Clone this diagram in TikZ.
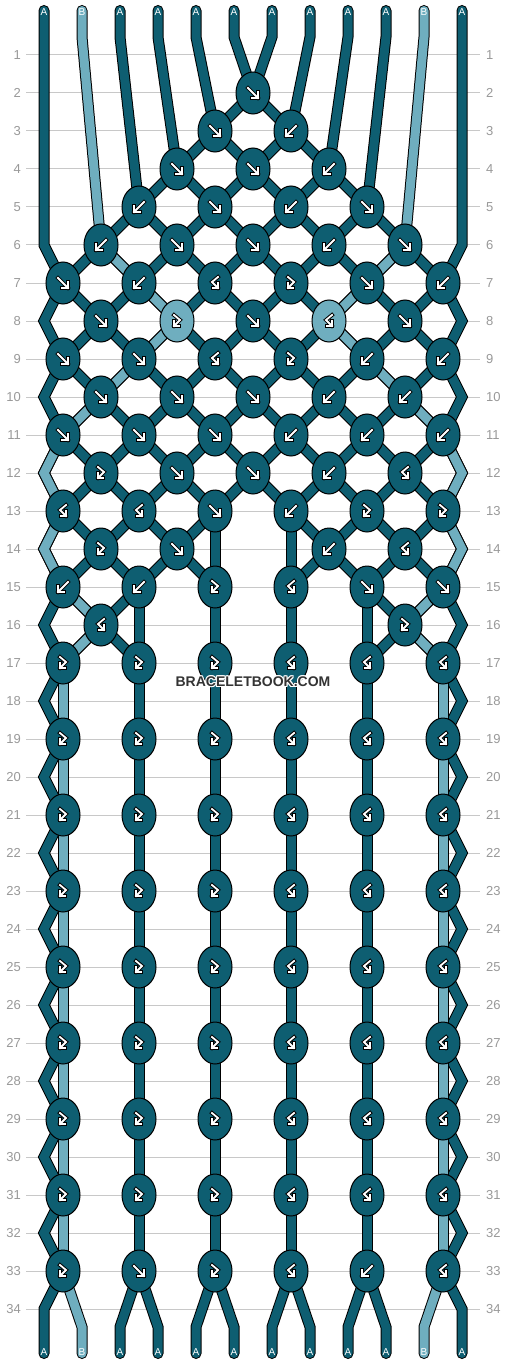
\documentclass[tikz,border=0pt]{standalone}
\usepackage{fontspec}
\setmainfont{Liberation Sans}
\usetikzlibrary{shapes.geometric}
\definecolor{dk}{RGB}{14,94,113}
\definecolor{lt}{RGB}{111,174,191}
\definecolor{gridc}{RGB}{200,200,200}
\definecolor{numc}{RGB}{153,153,153}
\definecolor{wmc}{RGB}{51,51,51}
\pgfdeclarelayer{gridlayer}
\pgfdeclarelayer{strandlayer}
\pgfdeclarelayer{frontlayer}
\pgfsetlayers{gridlayer,strandlayer,main,frontlayer}
\newcommand\kglyph[1]{%
  \begin{scope}[shift={(path picture bounding box.center)}]
    \draw[black,line width=3.8pt,line cap=rect,line join=miter] #1;
    \draw[white,line width=1.8pt,line cap=rect,line join=miter] #1;
  \end{scope}}
\newcommand\K[4]{\node[k#1,#2] (k#3-#4) at ({25+38*#4},{17+38*#3}) {};}
\tikzset{
  knot/.style={ellipse, draw=black, line width=1pt, fill=dk, minimum width=34pt, minimum height=42pt, inner sep=0pt, outer sep=0pt},
  kF/.style={knot, path picture={\kglyph{(-5,-5)--(5,5) (5,-1)--(5,5)--(-1,5)}}},
  kB/.style={knot, path picture={\kglyph{(5,-5)--(-5,5) (-5,-1)--(-5,5)--(1,5)}}},
  kFB/.style={knot, path picture={\kglyph{(-3,-6)--(3,-1)--(-3,5) (-3,0)--(-3,5)--(2,5)}}},
  kBF/.style={knot, path picture={\kglyph{(3,-6)--(-3,-1)--(3,5) (3,0)--(3,5)--(-2,5)}}},
  strand/.style={draw=black, line width=1pt, double=dk, double distance=9pt, line join=miter},
  strandL/.style={strand, double=lt},
  endstrand/.style={line cap=round},
  endlabel/.style={text=white, font=\fontsize{10}{10}\selectfont, inner sep=0pt},
  rownum/.style={text=numc, font=\fontsize{13}{13}\selectfont, inner sep=0pt},
  gridline/.style={draw=gridc, line width=1pt},
  wmark/.style={font=\bfseries\fontsize{14}{14}\selectfont, inner sep=0pt}
}
\begin{document}
\begin{tikzpicture}[x=1pt,y=-1pt]
\useasboundingbox (0,0) rectangle (506,1364);
\begin{pgfonlayer}{gridlayer}
  \fill[white] (0,0) rectangle (506,1364);
  \foreach \r in {1,...,34} {
    \node[rownum, anchor=east] (nl\r) at (21,{17+38*\r}) {\r};
    \node[rownum, anchor=west] (nr\r) at (486,{17+38*\r}) {\r};
    \draw[gridline] ([xshift=5pt]nl\r.east) -- ([xshift=-6pt]nr\r.west);
  }
\end{pgfonlayer}
% coordinates of strand ends and edge corners
\foreach \i in {1,...,12} {
  \pgfmathsetmacro\sx{6+38*\i}
  \coordinate (ts\i) at (\sx,10.5);
  \coordinate (tb\i) at (\sx,37);
  \coordinate (bs\i) at (\sx,1353.5);
  \coordinate (bb\i) at (\sx,1327);
}
\coordinate (eL6) at (44,245);
\coordinate (eR6) at (462,245);
\foreach \r in {8,10,...,34} {
  \coordinate (eL\r) at (44,{17+38*\r});
  \coordinate (eR\r) at (462,{17+38*\r});
}
% knots
\K{F}{}{2}{6}
\K{F}{}{3}{5} \K{B}{}{3}{7}
\K{F}{}{4}{4} \K{F}{}{4}{6} \K{B}{}{4}{8}
\K{B}{}{5}{3} \K{F}{}{5}{5} \K{B}{}{5}{7} \K{F}{}{5}{9}
\K{B}{}{6}{2} \K{F}{}{6}{4} \K{F}{}{6}{6} \K{B}{}{6}{8} \K{F}{}{6}{10}
\K{F}{}{7}{1} \K{B}{}{7}{3} \K{BF}{}{7}{5} \K{FB}{}{7}{7} \K{F}{}{7}{9} \K{B}{}{7}{11}
\K{F}{}{8}{2} \K{FB}{fill=lt}{8}{4} \K{F}{}{8}{6} \K{BF}{fill=lt}{8}{8} \K{F}{}{8}{10}
\K{F}{}{9}{1} \K{F}{}{9}{3} \K{BF}{}{9}{5} \K{FB}{}{9}{7} \K{B}{}{9}{9} \K{B}{}{9}{11}
\K{F}{}{10}{2} \K{F}{}{10}{4} \K{F}{}{10}{6} \K{B}{}{10}{8} \K{B}{}{10}{10}
\K{F}{}{11}{1} \K{F}{}{11}{3} \K{F}{}{11}{5} \K{B}{}{11}{7} \K{B}{}{11}{9} \K{B}{}{11}{11}
\K{FB}{}{12}{2} \K{F}{}{12}{4} \K{F}{}{12}{6} \K{B}{}{12}{8} \K{BF}{}{12}{10}
\K{BF}{}{13}{1} \K{BF}{}{13}{3} \K{F}{}{13}{5} \K{B}{}{13}{7} \K{FB}{}{13}{9} \K{FB}{}{13}{11}
\K{FB}{}{14}{2} \K{F}{}{14}{4} \K{B}{}{14}{8} \K{BF}{}{14}{10}
\K{B}{}{15}{1} \K{B}{}{15}{3} \K{FB}{}{15}{5} \K{BF}{}{15}{7} \K{F}{}{15}{9} \K{F}{}{15}{11}
\K{BF}{}{16}{2} \K{FB}{}{16}{10}
\foreach \r in {17,19,...,31} {
  \K{FB}{}{\r}{1} \K{FB}{}{\r}{3} \K{FB}{}{\r}{5} \K{BF}{}{\r}{7} \K{BF}{}{\r}{9} \K{BF}{}{\r}{11}
}
\K{FB}{}{33}{1} \K{F}{}{33}{3} \K{FB}{}{33}{5} \K{BF}{}{33}{7} \K{B}{}{33}{9} \K{BF}{}{33}{11}
% strands
\begin{pgfonlayer}{strandlayer}
  % top ends
  \draw[strand,endstrand] (ts1) -- (eL6) -- (k7-1.center);
  \draw[strand,endstrand] (ts12) -- (eR6) -- (k7-11.center);
  \draw[strand,endstrand] (ts3) -- (tb3) -- (k5-3.center);
  \draw[strand,endstrand] (ts4) -- (tb4) -- (k4-4.center);
  \draw[strand,endstrand] (ts5) -- (tb5) -- (k3-5.center);
  \draw[strand,endstrand] (ts6) -- (tb6) -- (k2-6.center);
  \draw[strand,endstrand] (ts7) -- (tb7) -- (k2-6.center);
  \draw[strand,endstrand] (ts8) -- (tb8) -- (k3-7.center);
  \draw[strand,endstrand] (ts9) -- (tb9) -- (k4-8.center);
  \draw[strand,endstrand] (ts10) -- (tb10) -- (k5-9.center);
  % diagonals between knots of consecutive rows
  \foreach \r in {2,...,16} {
    \pgfmathtruncatemacro\rn{\r+1}
    \foreach \j in {1,...,11} {
      \pgfmathtruncatemacro\jl{\j-1}
      \pgfmathtruncatemacro\jr{\j+1}
      \ifcsname pgf@sh@ns@k\r-\j\endcsname
        \ifcsname pgf@sh@ns@k\rn-\jl\endcsname
          \draw[strand] (k\r-\j.center) -- (k\rn-\jl.center);
        \fi
        \ifcsname pgf@sh@ns@k\rn-\jr\endcsname
          \draw[strand] (k\r-\j.center) -- (k\rn-\jr.center);
        \fi
      \fi
    }
  }
  % edge zigzags
  \foreach \r in {7,9,...,31} {
    \pgfmathtruncatemacro\ra{\r+1}
    \pgfmathtruncatemacro\rb{\r+2}
    \draw[strand] (k\r-1.center) -- (eL\ra) -- (k\rb-1.center);
    \draw[strand] (k\r-11.center) -- (eR\ra) -- (k\rb-11.center);
  }
  % verticals
  \draw[strand] (k13-5.center) -- (k15-5.center);
  \draw[strand] (k13-7.center) -- (k15-7.center);
  \draw[strand] (k15-3.center) -- (k17-3.center);
  \draw[strand] (k15-5.center) -- (k17-5.center);
  \draw[strand] (k15-7.center) -- (k17-7.center);
  \draw[strand] (k15-9.center) -- (k17-9.center);
  \foreach \r in {17,19,...,31} {
    \pgfmathtruncatemacro\rb{\r+2}
    \foreach \j in {3,5,7,9} {
      \draw[strand] (k\r-\j.center) -- (k\rb-\j.center);
    }
  }
  % bottom ends
  \draw[strand,endstrand] (k33-1.center) -- (eL34) -- (bs1);
  \draw[strand,endstrand] (k33-11.center) -- (eR34) -- (bs12);
  \draw[strand,endstrand] (k33-3.center) -- (bb3) -- (bs3);
  \draw[strand,endstrand] (k33-3.center) -- (bb4) -- (bs4);
  \draw[strand,endstrand] (k33-5.center) -- (bb5) -- (bs5);
  \draw[strand,endstrand] (k33-5.center) -- (bb6) -- (bs6);
  \draw[strand,endstrand] (k33-7.center) -- (bb7) -- (bs7);
  \draw[strand,endstrand] (k33-7.center) -- (bb8) -- (bs8);
  \draw[strand,endstrand] (k33-9.center) -- (bb9) -- (bs9);
  \draw[strand,endstrand] (k33-9.center) -- (bb10) -- (bs10);
  % light strand B (left and right)
  \draw[strandL,endstrand] (ts2) -- (tb2) -- (k6-2.center);
  \draw[strandL,endstrand] (ts11) -- (tb11) -- (k6-10.center);
  \draw[strandL] (k6-2.center) -- (k7-3.center) -- (k8-4.center);
  \draw[strandL] (k8-4.center) -- (k9-3.center) -- (k10-2.center) -- (k11-1.center);
  \draw[strandL] (k6-10.center) -- (k7-9.center) -- (k8-8.center);
  \draw[strandL] (k8-8.center) -- (k9-9.center) -- (k10-10.center) -- (k11-11.center);
  \draw[strandL] (k11-1.center) -- (eL12) -- (k13-1.center) -- (eL14) -- (k15-1.center);
  \draw[strandL] (k11-11.center) -- (eR12) -- (k13-11.center) -- (eR14) -- (k15-11.center);
  \draw[strandL] (k15-1.center) -- (k16-2.center) -- (k17-1.center);
  \draw[strandL] (k15-11.center) -- (k16-10.center) -- (k17-11.center);
  \foreach \r in {17,19,...,31} {
    \pgfmathtruncatemacro\rb{\r+2}
    \draw[strandL] (k\r-1.center) -- (k\rb-1.center);
    \draw[strandL] (k\r-11.center) -- (k\rb-11.center);
  }
  \draw[strandL,endstrand] (k33-1.center) -- (bb2) -- (bs2);
  \draw[strandL,endstrand] (k33-11.center) -- (bb11) -- (bs11);
\end{pgfonlayer}
\begin{pgfonlayer}{frontlayer}
  \foreach \i/\lab in {1/A,2/B,3/A,4/A,5/A,6/A,7/A,8/A,9/A,10/A,11/B,12/A} {
    \pgfmathsetmacro\sx{6+38*\i}
    \node[endlabel] (lt\i) at (\sx,12.5) {\lab};
    \node[endlabel] (lb\i) at (\sx,1352) {\lab};
  }
  \foreach \dx/\dy [count=\n] in {1/0,-1/0,0/1,0/-1,0.8/0.8,-0.8/0.8,0.8/-0.8,-0.8/-0.8} {
    \node[wmark, text=white] (wmh\n) at ({253+\dx},{681.5+\dy}) {BRACELETBOOK.COM};
  }
  \node[wmark, text=wmc] (wm) at (253,681.5) {BRACELETBOOK.COM};
\end{pgfonlayer}
\end{tikzpicture}
\end{document}
